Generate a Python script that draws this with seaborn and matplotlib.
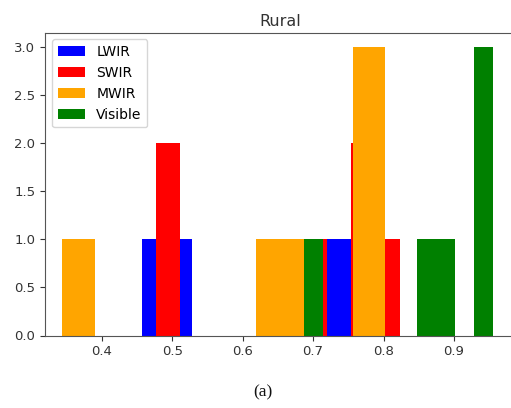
import matplotlib
matplotlib.use("Agg")
import matplotlib.pyplot as plt
import seaborn as sns
import pandas as pd

# Raw values per band (each histogram uses 10 bins over its own range)
lwir = [0.4567, 0.510, 0.725, 0.762, 0.8157]
swir = [0.477, 0.490, 0.700, 0.765, 0.775, 0.823]
mwir = [0.344, 0.640, 0.690, 0.770, 0.785, 0.802]
visible = [0.687, 0.862, 0.888, 0.935, 0.945, 0.9555]

series_names = ["LWIR", "SWIR", "MWIR", "Visible"]
series_values = [lwir, swir, mwir, visible]
series_colors = ["blue", "red", "orange", "green"]

plt.rcParams["font.family"] = ["DejaVu Sans"]
plt.rcParams["font.size"] = 10

fig = plt.figure(figsize=(5.11, 4.08), dpi=100)
W, H = 511, 408
ax = fig.add_axes([45 / W, 1 - 335.5 / H, (515 - 45) / W, (335.5 - 32.5) / H])

for name, vals, col in zip(series_names, series_values, series_colors):
    df = pd.DataFrame({"value": vals})
    sns.histplot(data=df, x="value", bins=10, color=col, alpha=1.0,
                 linewidth=0, label=name, ax=ax)

ax.set_xlabel("")
ax.set_ylabel("")
ax.set_title("Rural", fontsize=11.5, color="#333333", pad=5)
ax.set_xlim(0.3195, 0.9866)
ax.set_ylim(0, 3.15)
ax.set_yticks([0.0, 0.5, 1.0, 1.5, 2.0, 2.5, 3.0])
ax.set_xticks([0.4, 0.5, 0.6, 0.7, 0.8, 0.9])
ax.tick_params(colors="#333333", labelsize=9.5)
for s in ax.spines.values():
    s.set_color("#555555")
ax.legend(loc="upper left", fontsize=10)

fig.text(263 / W, 1 - 392 / H, "(a)", ha="center", va="center",
         fontsize=12.5, family=["Liberation Serif"], color="#111111")

fig.savefig("out.png", dpi=100)
